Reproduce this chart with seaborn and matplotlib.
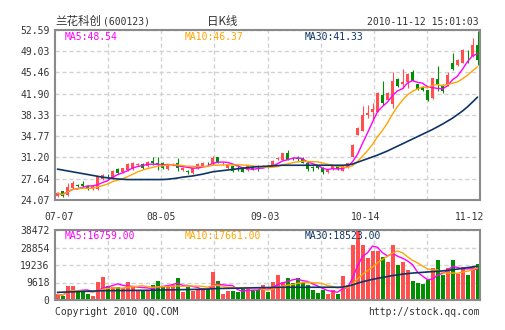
import numpy as np
import pandas as pd
import matplotlib
matplotlib.use("Agg")
import matplotlib.pyplot as plt
import seaborn as sns

# ---------------- data ----------------
opens = [24.8, 25.5, 24.9, 26.1, 26.6, 26.8, 26.5, 25.9, 25.9, 27.6,
         28.0, 27.7, 29.2, 28.7, 29.1, 29.2, 30.0, 30.1, 29.7, 30.6,
         30.2, 30.2, 29.2, 30.0, 30.2, 29.1, 29.0, 28.6, 29.4, 29.8,
         30.25, 30.1, 31.2, 30.2, 29.4, 29.8, 29.5, 29.2, 29.1, 29.6,
         29.7, 29.6, 29.8, 29.8, 30.9, 30.8, 31.9, 31.1, 31.1, 31.1,
         30.2, 29.6, 29.9, 29.5, 28.7, 29.2, 29.8, 29.0, 29.6, 31.2,
         35.0, 35.7, 38.3, 38.75, 38.9, 41.7, 40.9, 40.15, 44.4, 43.6,
         43.85, 45.5, 43.5, 43.1, 42.5, 41.1, 44.4, 43.4, 43.3, 47.0,
         46.8, 47.1, 48.6, 48.2, 50.1]
closes = [25.2, 24.8, 26.3, 27.0, 26.4, 26.5, 25.9, 26.4, 27.9, 28.3,
          27.9, 28.9, 28.6, 29.4, 30.1, 30.2, 30.1, 29.4, 30.5, 30.2,
          30.1, 29.4, 30.0, 30.1, 29.4, 29.5, 28.7, 29.4, 30.1, 30.3,
          30.2, 31.1, 30.3, 30.3, 30.0, 28.9, 29.4, 28.8, 29.7, 29.2,
          29.6, 29.8, 29.7, 30.6, 31.1, 31.9, 30.8, 30.9, 31.0, 30.3,
          29.2, 29.5, 29.4, 28.7, 29.1, 29.95, 29.2, 29.8, 30.2, 33.3,
          36.1, 38.4, 38.6, 39.3, 42.1, 40.4, 42.1, 44.1, 43.2, 43.9,
          45.2, 44.1, 42.65, 42.5, 40.9, 44.5, 43.4, 42.3, 45.0, 46.0,
          47.5, 49.3, 48.55, 50.0, 47.6]
highs = [25.4, 25.6, 26.9, 27.3, 26.8, 27.3, 26.6, 26.6, 28.0, 28.4,
         28.4, 29.1, 29.4, 29.5, 30.3, 30.4, 30.3, 30.3, 30.6, 31.3,
         31.3, 30.4, 30.1, 30.2, 31.1, 29.6, 29.1, 29.5, 30.2, 30.4,
         30.4, 31.5, 31.3, 30.4, 30.1, 29.9, 29.9, 29.3, 29.8, 29.7,
         29.9, 30.0, 29.9, 30.7, 31.2, 32.0, 32.5, 31.3, 31.4, 31.2,
         30.3, 29.7, 30.0, 29.6, 29.2, 30.0, 29.9, 29.9, 30.3, 33.4,
         36.3, 39.9, 40.0, 40.3, 42.2, 43.96, 42.2, 45.6, 44.6, 46.0,
         45.4, 45.9, 43.6, 43.2, 42.6, 44.6, 46.5, 43.5, 45.6, 48.7,
         47.7, 49.4, 49.3, 51.2, 52.4]
lows = [24.6, 24.5, 24.8, 25.9, 26.2, 26.3, 25.8, 25.7, 25.7, 27.4,
        27.5, 27.6, 28.5, 28.6, 29.0, 29.1, 29.8, 29.2, 29.6, 29.9,
        29.1, 29.2, 29.1, 29.9, 29.0, 29.0, 28.5, 28.5, 29.3, 29.7,
        30.0, 30.0, 30.2, 29.9, 29.3, 28.8, 29.0, 28.7, 29.0, 29.1,
        29.0, 29.5, 29.4, 29.7, 30.8, 30.7, 30.7, 30.8, 30.6, 30.2,
        29.0, 29.0, 29.3, 28.5, 28.6, 29.1, 29.1, 28.9, 29.5, 31.2,
        34.9, 35.6, 37.9, 37.6, 38.8, 40.0, 40.8, 39.5, 43.1, 42.8,
        42.9, 44.0, 42.5, 42.3, 40.7, 41.0, 42.3, 42.0, 43.2, 45.8,
        46.6, 47.0, 47.1, 48.1, 46.8]
volumes = [3100, 2200, 7700, 7700, 4600, 4600, 3100, 2200, 10100, 12500,
           7700, 7000, 7000, 6400, 10100, 7000, 5100, 5500, 5500, 8200,
           10400, 7700, 7700, 8200, 12300, 4600, 7000, 5100, 5500, 6400,
           5900, 15600, 10600, 3300, 5100, 5100, 4600, 5900, 5900, 5500,
           5500, 8200, 4600, 10100, 13700, 10100, 12300, 9200, 12300, 9200,
           8200, 5500, 3700, 5500, 3300, 5500, 3300, 13200, 8200, 30000,
           38472, 30000, 23000, 26700, 26700, 23600, 20900, 30000, 19400, 20900,
           16300, 10600, 9200, 8800, 11000, 17500, 22000, 13500, 17500, 22000,
           14500, 18000, 13500, 18000, 19800]
ma30_price = [29.25, 29.1, 28.95, 28.8, 28.65, 28.5, 28.35, 28.2, 28.05, 27.9,
              27.8, 27.7, 27.6, 27.55, 27.5, 27.5, 27.5, 27.5, 27.5, 27.5,
              27.5, 27.5, 27.55, 27.65, 27.75, 27.9, 28.0, 28.1, 28.25, 28.4,
              28.6, 28.8, 28.9, 29.0, 29.1, 29.2, 29.3, 29.4, 29.5, 29.6,
              29.65, 29.7, 29.75, 29.8, 29.85, 29.9, 29.9, 29.9, 29.9, 29.9,
              29.9, 29.9, 29.9, 29.9, 29.9, 29.9, 29.9, 29.9, 29.95, 30.1,
              30.4, 30.7, 31.0, 31.3, 31.6, 31.95, 32.3, 32.7, 33.1, 33.5,
              33.9, 34.3, 34.7, 35.1, 35.5, 35.9, 36.35, 36.8, 37.3, 37.8,
              38.4, 39.0, 39.7, 40.5, 41.33]
ma30_vol = [4200, 4300, 4400, 4500, 4600, 4700, 4800, 4900, 5000, 5100,
            5150, 5150, 5200, 5200, 5250, 5250, 5300, 5300, 5350, 5400,
            5450, 5500, 5550, 5600, 5650, 5700, 5750, 5800, 5850, 5900,
            6000, 6150, 6300, 6350, 6400, 6450, 6500, 6550, 6600, 6700,
            6750, 6800, 6850, 6900, 6950, 7000, 7000, 7000, 7000, 7000,
            7000, 7000, 7000, 7000, 7000, 7000, 7000, 7100, 7600, 8300,
            9200, 10000, 10700, 11300, 11900, 12400, 12900, 13400, 13800, 14200,
            14500, 14800, 15000, 15200, 15400, 15600, 15800, 16000, 16300, 16600,
            17000, 17400, 17800, 18200, 18523]

price_tick_labels = ["24.07", "27.64", "31.20", "34.77", "38.33",
                     "41.90", "45.46", "49.03", "52.59"]
vol_tick_labels = ["0", "9618", "19236", "28854", "38472"]
date_labels = ["07-07", "08-05", "09-03", "10-14", "11-12"]
date_label_pos = [0.4, 20.7, 41.5, 61.7, 82.4]

stock_name = "兰花科创"
stock_code = "(600123)"
chart_kind = "日K线"
timestamp = "2010-11-12 15:01:03"
price_ma_text = ["MA5:48.54", "MA10:46.37", "MA30:41.33"]
vol_ma_text = ["MA5:16759.00", "MA10:17661.00", "MA30:18523.00"]

# ---------------- styling ----------------
RED = "#ff4f4f"
GREEN = "#008f00"
C_MA5 = "#ff00ff"
C_MA10 = "#ffa500"
C_MA30 = "#0f3466"
GRID = "#d2d2d2"
FRAME = "#8a8a8a"
TXT = "#333333"

sns.set_theme(style="white")
plt.rcParams["font.family"] = ["DejaVu Sans Mono", "Noto Sans CJK SC"]

n = len(closes)
idx = np.arange(n)
df = pd.DataFrame({"i": idx, "open": opens, "close": closes, "high": highs,
                   "low": lows, "vol": volumes, "ma30": ma30_price, "vma30": ma30_vol})
df["ma5"] = df["close"].rolling(5, min_periods=1).mean()
df["ma10"] = df["close"].rolling(10, min_periods=1).mean()
df["vma5"] = df["vol"].rolling(5, min_periods=1).mean()
df["vma10"] = df["vol"].rolling(10, min_periods=1).mean()
df["dir"] = np.where(df["close"] >= df["open"], "up", "down")
colors = np.where(df["dir"] == "up", RED, GREEN)

W, H = 505, 330
fig = plt.figure(figsize=(W / 100, H / 100), dpi=100)
fig.patch.set_facecolor("white")
ax = fig.add_axes([55 / W, 1 - 200 / H, 425 / W, 170 / H])
ax2 = fig.add_axes([55 / W, 1 - 300 / H, 425 / W, 70 / H])

grid_x = -0.5 + np.arange(1, 8) * (n / 8)

def style_axes(a, yticks, ylabels, ylim):
    a.set_xlim(-0.5, n - 0.5)
    a.set_ylim(*ylim)
    a.set_yticks(yticks)
    a.set_yticklabels(ylabels)
    a.set_xticks([])
    a.set_xticks(grid_x, minor=True)
    a.tick_params(axis="both", which="both", length=0, labelsize=7, colors=TXT, pad=4)
    a.grid(True, which="minor", axis="x", color=GRID, lw=1, ls=(0, (3, 2)))
    a.grid(True, which="major", axis="y", color=GRID, lw=1, ls=(0, (3, 2)))
    a.set_xlabel("")
    a.set_ylabel("")
    for s in a.spines.values():
        s.set_visible(True)
        s.set_color(FRAME)
        s.set_linewidth(1.5)
        s.set_zorder(10)
    a.set_axisbelow(True)
    a.set_facecolor("white")

# ---- price panel ----
ax.vlines(df["i"], df["low"], df["high"], colors=colors, lw=0.8, zorder=3)
body_h = np.maximum((df["close"] - df["open"]).abs(), 0.07)
ax.bar(df["i"], body_h, bottom=np.minimum(df["open"], df["close"]),
       width=0.75, color=colors, linewidth=0, zorder=4)
sns.lineplot(x=df["i"], y=df["ma5"], color=C_MA5, lw=1, ax=ax, zorder=5)
sns.lineplot(x=df["i"], y=df["ma10"], color=C_MA10, lw=1, ax=ax, zorder=5)
sns.lineplot(x=df["i"], y=df["ma30"], color=C_MA30, lw=1.2, ax=ax, zorder=5)
pticks = [float(v) for v in price_tick_labels]
style_axes(ax, pticks, price_tick_labels, (pticks[0], pticks[-1]))

# ---- volume panel ----
ax2.bar(df["i"], df["vol"], width=0.8, color=colors, linewidth=0, zorder=3)
sns.lineplot(x=df["i"], y=df["vma5"], color=C_MA5, lw=1, ax=ax2, zorder=5)
sns.lineplot(x=df["i"], y=df["vma10"], color=C_MA10, lw=1, ax=ax2, zorder=5)
sns.lineplot(x=df["i"], y=df["vma30"], color=C_MA30, lw=1.2, ax=ax2, zorder=5)
vticks = [float(v) for v in vol_tick_labels]
style_axes(ax2, vticks, vol_tick_labels, (0, vticks[-1]))

# ---- texts ----
def ftext(x, y, s, **kw):
    fig.text(x / W, 1 - y / H, s, va="center", **kw)

ftext(55, 21, stock_name, fontsize=8.3, color=TXT, family=["Noto Sans CJK SC"])
ftext(103, 21.5, stock_code, fontsize=7, color=TXT)
ftext(207, 21, chart_kind, fontsize=8.3, color=TXT, family=["Noto Sans CJK SC"])
ftext(479, 22, timestamp, fontsize=7, color=TXT, ha="right")

for x0, s, c in zip([65, 185, 305], price_ma_text, [C_MA5, C_MA10, C_MA30]):
    ftext(x0, 36.5, s, fontsize=7, color=c)
for x0, s, c in zip([65, 185, 305], vol_ma_text, [C_MA5, C_MA10, C_MA30]):
    ftext(x0, 236, s, fontsize=7, color=c)

for p, lab in zip(date_label_pos, date_labels):
    ax.text(p, -0.1, lab, transform=ax.get_xaxis_transform(), ha="center",
            va="center", fontsize=7, color=TXT)

ftext(55, 312, "Copyright 2010 QQ.COM", fontsize=7, color=TXT)
ftext(480, 312, "http://stock.qq.com", fontsize=7, color=TXT, ha="right")

fig.savefig("out.png", dpi=100, facecolor="white")
